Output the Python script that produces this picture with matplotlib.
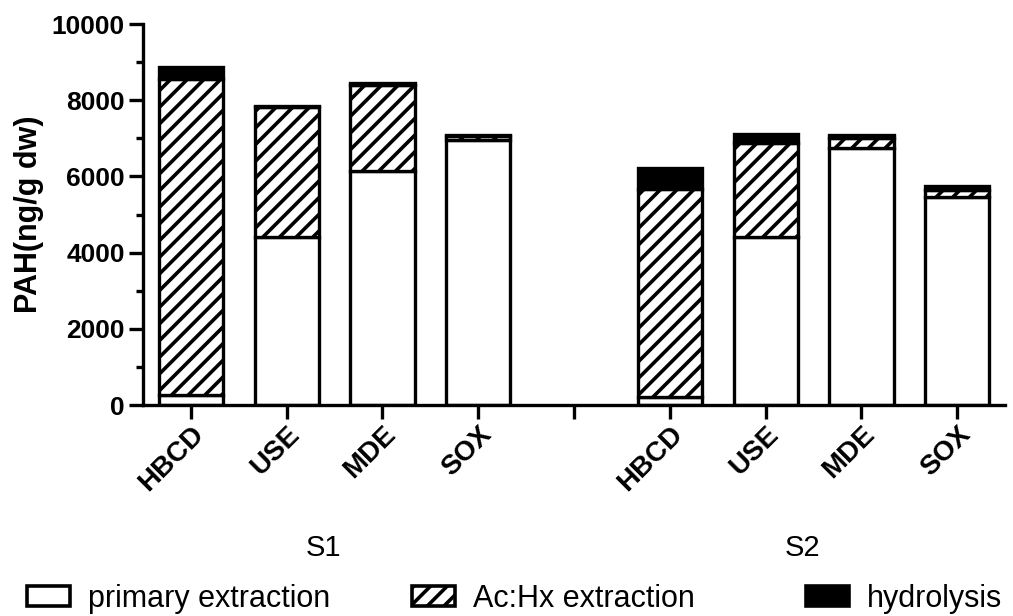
import matplotlib.pyplot as plt
from matplotlib.patches import Patch
import numpy as np

plt.rcParams['font.family'] = ['Liberation Sans', 'DejaVu Sans']
plt.rcParams['hatch.linewidth'] = 2.6

# --- Data (ng/g dw) ---
methods = ['HBCD', 'USE', 'MDE', 'SOX']
groups = ['S1', 'S2']
primary = [250, 4400, 6130, 6950,
           220, 4400, 6740, 5470]
ac_hx = [8300, 3420, 2280, 100,
         5440, 2480, 260, 170]
hydrolysis = [330, 40, 50, 50,
              560, 230, 80, 110]
legend_labels = ['primary extraction', 'Ac:Hx extraction', 'hydrolysis']

# bar positions: 4 per group, one empty slot between groups
pos = np.array([0, 1, 2, 3, 5, 6, 7, 8])
width = 0.67

fig = plt.figure(figsize=(10.13, 6.16), dpi=100)
ax = fig.add_axes([0.1412, 0.3425, 0.851, 0.6185])

lw = 2.4
prim = np.array(primary)
ach = np.array(ac_hx)
hyd = np.array(hydrolysis)
ax.bar(pos, prim, width, color='white', edgecolor='black', linewidth=lw, zorder=2)
ax.bar(pos, ach, width, bottom=prim, color='white', edgecolor='black',
       hatch='//', linewidth=lw, zorder=2)
ax.bar(pos, hyd, width, bottom=prim + ach, color='black', edgecolor='black',
       linewidth=lw, zorder=2)

ax.set_xlim(-0.5, 8.5)
ax.set_ylim(0, 10000)
ax.set_yticks(np.arange(0, 10001, 2000))
ax.set_yticks(np.arange(1000, 10000, 2000), minor=True)
ax.set_xticks(np.arange(0, 9))
ax.set_xticklabels(methods + [''] + methods, rotation=45, ha='right',
                   rotation_mode='anchor', fontsize=20, fontweight='bold')
for lab in ax.get_yticklabels():
    lab.set_fontweight('bold')
    lab.set_fontsize(19)
ax.tick_params(axis='both', which='major', direction='out', length=10, width=2.4)
ax.tick_params(axis='y', which='minor', direction='out', length=5, width=2.4)
ax.tick_params(axis='x', pad=2)
ax.tick_params(axis='y', pad=3)
ax.set_ylabel('PAH(ng/g dw)', fontsize=22, fontweight='bold', labelpad=6)

for side in ['top', 'right']:
    ax.spines[side].set_visible(False)
for side in ['left', 'bottom']:
    ax.spines[side].set_linewidth(2.4)

# group labels
trans = ax.get_xaxis_transform()
ax.text(1.38, -0.375, groups[0], transform=trans, ha='center', va='center', fontsize=21)
ax.text(6.38, -0.375, groups[1], transform=trans, ha='center', va='center', fontsize=21)

handles = [Patch(facecolor='white', edgecolor='black', linewidth=2.6),
           Patch(facecolor='white', edgecolor='black', hatch='//', linewidth=2.6),
           Patch(facecolor='black', edgecolor='black', linewidth=2.6)]
leg_x = [27, 412, 806]
for h, lab, x in zip(handles, legend_labels, leg_x):
    fig.legend([h], [lab], loc='center left', bbox_to_anchor=(x / 1013, 0.028),
               frameon=False, fontsize=22, handlelength=1.4, handleheight=0.65,
               handletextpad=0.6, borderpad=0.0, borderaxespad=0.0)

plt.savefig('out.png', dpi=100)
